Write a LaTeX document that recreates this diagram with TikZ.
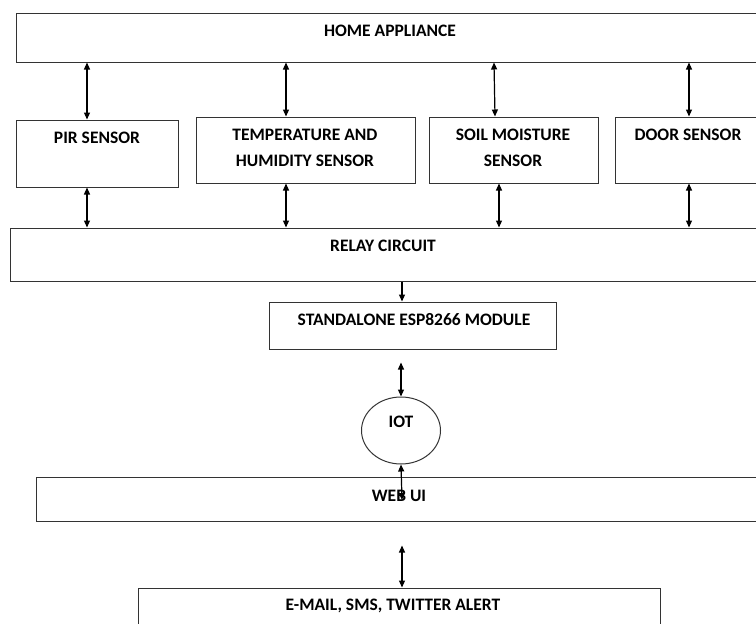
\documentclass[tikz,border=0pt]{standalone}
\usepackage{fontspec}
\setmainfont{Carlito}
\usetikzlibrary{arrows.meta,shapes.geometric}
\tikzset{
	box/.style={draw=black!80,line width=1,rectangle,inner sep=0},
	lbl/.style={font=\bfseries\fontsize{17.5}{26}\selectfont,align=center,inner sep=0},
	dbl/.style={line width=1.2,{Triangle[length=7,width=6]}-{Triangle[length=7,width=6]}},
	sgl/.style={line width=1.2,-{Triangle[length=7,width=6]}}
}
\begin{document}
\begin{tikzpicture}[x=1pt,y=-1pt]
		\useasboundingbox (0,0) rectangle (756,624);
		\clip (0,0) rectangle (756,624);
		
		\node[box,minimum width=754,minimum height=49] (home) at (393,37.5) {};
		\node[box,minimum width=162,minimum height=67] (pir) at (97,153.5) {};
		\node[box,minimum width=219,minimum height=66] (temp) at (305.5,150) {};
		\node[box,minimum width=169,minimum height=66] (soil) at (513.5,150) {};
		\node[box,minimum width=155,minimum height=66] (door) at (692.5,150) {};
		\node[box,minimum width=760,minimum height=53] (relay) at (390,254.5) {};
		\node[box,minimum width=287,minimum height=47] (esp) at (412.5,325.5) {};
		\node[draw=black!80,line width=1,ellipse,inner sep=0,minimum width=79,minimum height=67] (iot) at (401,430.5) {};
		\node[box,minimum width=734,minimum height=44] (web) at (403,499) {};
		\node[box,minimum width=522,minimum height=52] (mail) at (399,614) {};
		
		\coordinate (webin) at (402,500);
		
		\draw[dbl] (home.south -| 87,0) -- (pir.north -| 87,0);
		\draw[dbl] (home.south -| 286,0) -- (temp.north -| 286,0);
		\draw[dbl] (home.south -| 494,0) -- (soil.north -| 495,0);
		\draw[dbl] (home.south -| 689,0) -- (door.north -| 689,0);
		
		\draw[dbl] (pir.south -| 87,0) -- (relay.north -| 87,0);
		\draw[dbl] (temp.south -| 286,0) -- (relay.north -| 286,0);
		\draw[dbl] (soil.south -| 499,0) -- (relay.north -| 499,0);
		\draw[dbl] (door.south -| 689,0) -- (relay.north -| 689,0);
		
		\draw[sgl] (relay.south -| 402,0) -- (esp.north -| 402,0);
		\draw[dbl,shorten <=13] (esp.south -| iot.north) -- (iot.north);
		\draw[dbl] (iot.south) -- (webin);
		\draw[dbl,shorten <=24] (web.south -| 402,0) -- (mail.north -| 402,0);
		
		\node[lbl] (thome) at (390,31) {HOME APPLIANCE};
		\node[lbl] (tpir) at (97,138) {PIR SENSOR};
		\node[lbl] (ttemp) at (305,148) {TEMPERATURE AND\\HUMIDITY SENSOR};
		\node[lbl] (tsoil) at (513,148) {SOIL MOISTURE\\SENSOR};
		\node[lbl] (tdoor) at (688,135) {DOOR SENSOR};
		\node[lbl] (trelay) at (383,246) {RELAY CIRCUIT};
		\node[lbl] (tesp) at (414,320) {STANDALONE ESP8266 MODULE};
		\node[lbl] (tiot) at (401,422) {IOT};
		\node[lbl] (tweb) at (399,496) {WEB UI};
		\node[lbl] (tmail) at (393,606) {E-MAIL, SMS, TWITTER ALERT};
		
		\end{tikzpicture}
\end{document}
